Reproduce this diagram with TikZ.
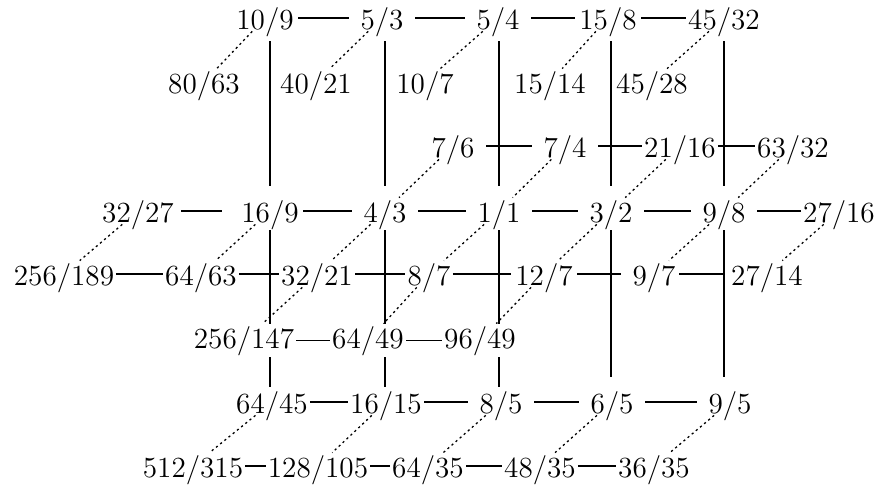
\documentclass[tikz,border=0pt]{standalone}
\usepackage{fontspec}
\pgfdeclarelayer{bg}
\pgfsetlayers{bg,main}
\begin{document}
\begin{tikzpicture}[x=0.5pt,y=-0.5pt,
  r/.style={inner sep=1pt, minimum width=33pt, text height=11pt, text depth=0pt, anchor=base, font=\fontsize{14.6}{17}\selectfont},
  cover/.style={r, fill=white, text depth=3.5pt},
  ln/.style={line width=0.6pt},
  dt/.style={line width=0.65pt, dash pattern=on 1.1pt off 1.6pt}]
\useasboundingbox (0,0) rectangle (883,484);
% top row
\node[r] (n109) at (265,29) {10/9};
\node[r] (n53) at (382,29) {5/3};
\node[r] (n54) at (498,29) {5/4};
\node[r] (n158) at (608,29) {15/8};
\node[r] (n4532) at (724,29) {45/32};
% 10/7 row
\node[r] (n8063) at (204,93) {80/63};
\node[r] (n4021) at (316,93) {40/21};
\node[r] (n107) at (425,93) {10/7};
\node[r] (n1514) at (550,93) {15/14};
\node[r] (n4528) at (652,93) {45/28};
% 7 row
\node[r] (n76) at (453,157) {7/6};
\node[r] (n74) at (565,157) {7/4};
\node[r] (n2116) at (680,157) {21/16};
\node[r] (n6332) at (793,157) {63/32};
% main row
\node[r] (n3227) at (138,222) {32/27};
\node[r] (n169) at (270,222) {16/9};
\node[r] (n43) at (385,222) {4/3};
\node[r] (n11) at (499,222) {1/1};
\node[r] (n32) at (611,222) {3/2};
\node[r] (n98) at (724,222) {9/8};
\node[r] (n2716) at (839,222) {27/16};
% 8/7 row
\node[r] (n256189) at (64,285) {256/189};
\node[r] (n6463) at (201,285) {64/63};
\node[r] (n3221) at (317,285) {32/21};
\node[r, minimum width=0pt] (n87) at (429,285) {8/7};
\node[r] (n127) at (544,285) {12/7};
\node[r] (n97) at (654,285) {9/7};
\node[r] (n2714) at (767,285) {27/14};
% 64/49 row
\node[cover] (n256147) at (244,348) {256/147};
\node[cover] (n6449) at (368,348) {64/49};
\node[cover] (n9649) at (480,348) {96/49};
% bottom row
\node[r] (n6445) at (272,413) {64/45};
\node[r] (n1615) at (386,413) {16/15};
\node[r] (n85) at (501,413) {8/5};
\node[r] (n65) at (612,413) {6/5};
\node[r] (n95) at (730,413) {9/5};
% lowest row
\node[r] (n512315) at (193,477) {512/315};
\node[r] (n128105) at (318,477) {128/105};
\node[r] (n6435) at (428,477) {64/35};
\node[r] (n4835) at (540,477) {48/35};
\node[r] (n3635) at (654,477) {36/35};

\begin{pgfonlayer}{bg}
% horizontal
\draw[ln] (n109) -- (n53) -- (n54) -- (n158) -- (n4532);
\draw[ln] (n76) -- (n74) -- (n2116) -- (n6332);
\draw[ln, shorten <=2.5pt, shorten >=7.5pt] (n3227) -- (n169);
\draw[ln] (n169) -- (n43) -- (n11) -- (n32) -- (n98) -- (n2716);
\draw[ln] (n256189) -- (n6463) -- (n3221) -- (n87) -- (n127) -- (n97);
\draw[ln, shorten <=-4pt, shorten >=2.5pt] (n97) -- (n2714);
\draw[ln] (n256147) -- (n6449) -- (n9649);
\draw[ln] (n6445) -- (n1615) -- (n85) -- (n65) -- (n95);
\draw[ln] (n512315) -- (n128105) -- (n6435) -- (n4835) -- (n3635);
% vertical upper
\foreach \m/\t in {n169/n109, n43/n53, n11/n54, n32/n158, n98/n4532}
  \draw[ln, shorten <=5pt, shorten >=6pt] (\m.north |- \t.south) -- (\m.north);
% vertical lower
\foreach \m/\b in {n169/n6445, n43/n1615, n11/n85}
  \draw[ln, shorten <=3pt, shorten >=1pt] (\m.south) -- (\m.south |- \b.north);
\foreach \m/\b in {n32/n65, n98/n95}
  \draw[ln, shorten <=3pt, shorten >=6pt] (\m.south) -- (\m.south |- \b.north);
% dotted
\foreach \a/\b in {n109/n8063, n53/n4021, n54/n107, n158/n1514, n4532/n4528,
  n76/n43, n74/n11, n2116/n32, n6332/n98,
  n3227/n256189, n169/n6463, n43/n3221, n11/n87, n32/n127, n98/n97, n2716/n2714,
  n3221/n256147, n87/n6449, n127/n9649,
  n6445/n512315, n1615/n128105, n85/n6435, n65/n4835, n95/n3635}
  \draw[dt] (\a) -- (\b);
\end{pgfonlayer}
\end{tikzpicture}
\end{document}
